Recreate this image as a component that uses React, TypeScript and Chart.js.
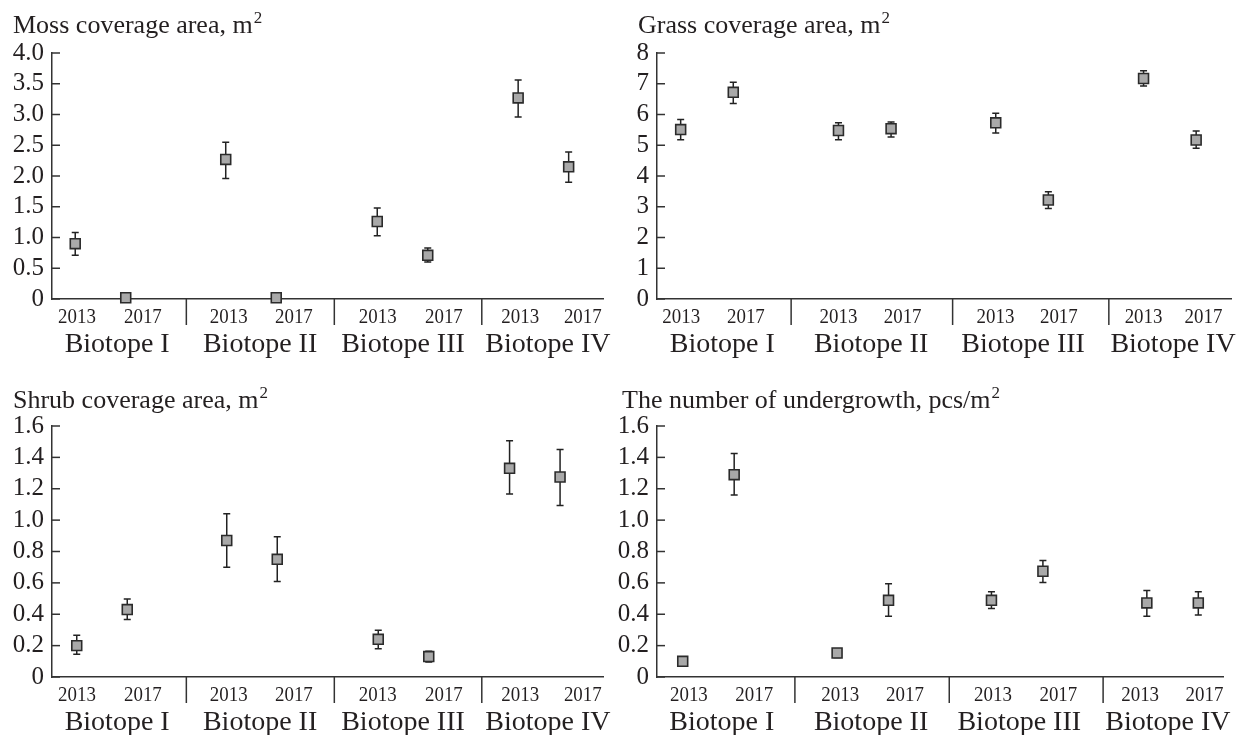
import React, { useEffect, useRef } from "react";
import { Chart, registerables } from "chart.js";

Chart.register(...registerables);

// ---------- data ----------
const YEARS = ["2013", "2017"];
const BIOTOPES = ["Biotope I", "Biotope II", "Biotope III", "Biotope IV"];

// order: I-2013, I-2017, II-2013, II-2017, III-2013, III-2017, IV-2013, IV-2017
const MOSS_MEAN = [0.9, 0.02, 2.27, 0.02, 1.26, 0.71, 3.27, 2.15];
const MOSS_LOW = [0.71, null, 1.96, null, 1.03, 0.6, 2.96, 1.9];
const MOSS_HIGH = [1.08, null, 2.55, null, 1.48, 0.83, 3.56, 2.39];

const GRASS_MEAN = [5.51, 6.72, 5.48, 5.54, 5.73, 3.22, 7.17, 5.17];
const GRASS_LOW = [5.18, 6.36, 5.18, 5.27, 5.4, 2.94, 6.93, 4.9];
const GRASS_HIGH = [5.84, 7.05, 5.73, 5.76, 6.04, 3.49, 7.42, 5.46];

const SHRUB_MEAN = [0.2, 0.43, 0.87, 0.75, 0.24, 0.13, 1.33, 1.275];
const SHRUB_LOW = [0.145, 0.366, 0.7, 0.608, 0.18, 0.096, 1.166, 1.094];
const SHRUB_HIGH = [0.266, 0.498, 1.04, 0.894, 0.298, 0.164, 1.506, 1.45];

const UNDER_MEAN = [0.1, 1.29, 0.153, 0.489, 0.489, 0.674, 0.472, 0.472];
const UNDER_LOW = [0.074, 1.16, 0.124, 0.387, 0.436, 0.602, 0.387, 0.396];
const UNDER_HIGH = [0.128, 1.425, 0.18, 0.594, 0.543, 0.742, 0.551, 0.543];

// ---------- styles ----------
const TEXT = "#231f20";
const AXIS = "#333333";
const FONT = "'Liberation Serif', 'DejaVu Serif', serif";

type PanelCfg = {
  title: string;
  canvas: { left: number; top: number; width: number; height: number };
  area: { left: number; right: number; top: number; bottom: number };
  titleX: number;
  titleBase: number;
  yMax: number;
  yStep: number;
  decimals: number;
  xMin: number;
  xMax: number;
  groupPos: number[];
  separators: number[];
  yearLabelPos: number[][];
  biotopeLabelPos: number[];
  mean: number[];
  low: (number | null)[];
  high: (number | null)[];
};

const PANELS: PanelCfg[] = [
  {
    title: "Moss coverage area, m",
    canvas: { left: 0, top: 0, width: 620, height: 370 },
    area: { left: 52, right: 603, top: 53, bottom: 299 },
    titleX: 13,
    titleBase: 33,
    yMax: 4,
    yStep: 0.5,
    decimals: 1,
    xMin: -0.46,
    xMax: 10.45,
    groupPos: [0, 2.98, 5.98, 8.77],
    separators: [2.2, 5.13, 8.05],
    yearLabelPos: [[0.035, 1.34], [3.04, 4.33], [5.99, 7.3], [8.81, 10.05]],
    biotopeLabelPos: [0.83, 3.66, 6.49, 9.36],
    mean: MOSS_MEAN,
    low: MOSS_LOW,
    high: MOSS_HIGH,
  },
  {
    title: "Grass coverage area, m",
    canvas: { left: 600, top: 0, width: 640, height: 370 },
    area: { left: 57, right: 639, top: 53, bottom: 299 },
    titleX: 38,
    titleBase: 33,
    yMax: 8,
    yStep: 1,
    decimals: 0,
    xMin: -0.45,
    xMax: 10.47,
    groupPos: [0, 3, 5.99, 8.8],
    separators: [2.1, 5.17, 8.14],
    yearLabelPos: [[0.01, 1.24], [3.0, 4.22], [5.985, 7.19], [8.8, 9.94]],
    biotopeLabelPos: [0.79, 3.62, 6.51, 9.36],
    mean: GRASS_MEAN,
    low: GRASS_LOW,
    high: GRASS_HIGH,
  },
  {
    title: "Shrub coverage area, m",
    canvas: { left: 0, top: 370, width: 620, height: 365 },
    area: { left: 52, right: 603, top: 56, bottom: 307 },
    titleX: 13,
    titleBase: 38,
    yMax: 1.6,
    yStep: 0.2,
    decimals: 1,
    xMin: -0.46,
    xMax: 10.45,
    groupPos: [0.03, 3.0, 6.0, 8.6],
    separators: [2.2, 5.13, 8.05],
    yearLabelPos: [[0.035, 1.34], [3.04, 4.33], [5.99, 7.3], [8.81, 10.05]],
    biotopeLabelPos: [0.83, 3.66, 6.49, 9.36],
    mean: SHRUB_MEAN,
    low: SHRUB_LOW,
    high: SHRUB_HIGH,
  },
  {
    title: "The number of undergrowth, pcs/m",
    canvas: { left: 600, top: 370, width: 640, height: 365 },
    area: { left: 57, right: 623, top: 56, bottom: 307 },
    titleX: 22,
    titleBase: 38,
    yMax: 1.6,
    yStep: 0.2,
    decimals: 1,
    xMin: -0.5,
    xMax: 10.5,
    groupPos: [0, 3, 6, 9.02],
    separators: [2.18, 5.18, 8.17],
    yearLabelPos: [[0.12, 1.39], [3.06, 4.32], [6.03, 7.3], [8.89, 10.14]],
    biotopeLabelPos: [0.76, 3.66, 6.54, 9.43],
    mean: UNDER_MEAN,
    low: UNDER_LOW,
    high: UNDER_HIGH,
  },
];

function makePlugin(p: PanelCfg) {
  return {
    id: "decor",
    beforeDatasetsDraw(chart: any) {
      const ctx = chart.ctx;
      const xs = chart.scales.x;
      const ys = chart.scales.y;
      ctx.save();
      ctx.strokeStyle = "#222";
      ctx.lineWidth = 1.5;
      p.mean.forEach((_, i) => {
        const lo = p.low[i];
        const hi = p.high[i];
        if (lo == null || hi == null) return;
        const g = Math.floor(i / 2);
        const x = xs.getPixelForValue(p.groupPos[g] + (i % 2));
        const y1 = ys.getPixelForValue(lo);
        const y2 = ys.getPixelForValue(hi);
        ctx.beginPath();
        ctx.moveTo(x, y1);
        ctx.lineTo(x, y2);
        ctx.moveTo(x - 3.5, y1);
        ctx.lineTo(x + 3.5, y1);
        ctx.moveTo(x - 3.5, y2);
        ctx.lineTo(x + 3.5, y2);
        ctx.stroke();
      });
      ctx.restore();
    },
    afterDraw(chart: any) {
      const ctx = chart.ctx;
      const xs = chart.scales.x;
      const ys = chart.scales.y;
      const area = chart.chartArea;
      ctx.save();
      // inward y ticks
      ctx.strokeStyle = AXIS;
      ctx.lineWidth = 1.5;
      ys.ticks.forEach((t: any) => {
        const y = ys.getPixelForValue(t.value);
        ctx.beginPath();
        ctx.moveTo(area.left, y);
        ctx.lineTo(area.left + 8, y);
        ctx.stroke();
      });
      // group separators
      p.separators.forEach((s) => {
        const x = xs.getPixelForValue(s);
        ctx.beginPath();
        ctx.moveTo(x, area.bottom);
        ctx.lineTo(x, area.bottom + 26);
        ctx.stroke();
      });
      // year labels (condensed)
      ctx.fillStyle = TEXT;
      ctx.textAlign = "center";
      ctx.textBaseline = "middle";
      ctx.font = `22px ${FONT}`;
      p.yearLabelPos.forEach((pair) => {
        pair.forEach((v, j) => {
          const x = xs.getPixelForValue(v);
          ctx.save();
          ctx.translate(x, area.bottom + 18);
          ctx.scale(0.86, 1);
          ctx.fillText(YEARS[j], 0, 0);
          ctx.restore();
        });
      });
      // biotope labels
      ctx.font = `28px ${FONT}`;
      p.biotopeLabelPos.forEach((v, k) => {
        const x = xs.getPixelForValue(v);
        ctx.fillText(BIOTOPES[k], x, area.bottom + 46);
      });
      // title with superscript
      ctx.textAlign = "left";
      ctx.textBaseline = "alphabetic";
      ctx.font = `26px ${FONT}`;
      ctx.fillText(p.title, p.titleX, p.titleBase);
      const w = ctx.measureText(p.title).width;
      ctx.font = `17px ${FONT}`;
      ctx.fillText("2", p.titleX + w + 1, p.titleBase - 10);
      ctx.restore();
    },
  };
}

function Panel({ p }: { p: PanelCfg }) {
  const ref = useRef<HTMLCanvasElement | null>(null);
  useEffect(() => {
    if (!ref.current) return;
    const { width, height } = p.canvas;
    const points = p.mean.map((v, i) => ({
      x: p.groupPos[Math.floor(i / 2)] + (i % 2),
      y: v,
    }));
    const chart = new Chart(ref.current, {
      type: "scatter",
      data: {
        datasets: [
          {
            data: points,
            pointStyle: "rect",
            pointRadius: 7,
            pointHoverRadius: 7,
            pointBackgroundColor: "#a9a9a9",
            pointBorderColor: "#2b2b2b",
            pointBorderWidth: 1.6,
            showLine: false,
            clip: false,
          } as any,
        ],
      },
      options: {
        responsive: false,
        animation: false,
        devicePixelRatio: 1,
        events: [],
        layout: {
          padding: {
            left: 0,
            top: p.area.top,
            right: width - p.area.right,
            bottom: height - p.area.bottom,
          },
        },
        plugins: {
          legend: { display: false },
          tooltip: { enabled: false },
          title: { display: false },
        },
        scales: {
          x: {
            type: "linear",
            min: p.xMin,
            max: p.xMax,
            display: true,
            ticks: { display: false },
            grid: { display: false, drawTicks: false },
            border: { display: true, color: AXIS, width: 1.5 },
            afterFit: (s: any) => {
              s.height = 0;
            },
          },
          y: {
            type: "linear",
            min: 0,
            max: p.yMax,
            ticks: {
              stepSize: p.yStep,
              autoSkip: false,
              padding: 8,
              color: TEXT,
              font: { family: FONT, size: 25 },
              callback: (v: any) =>
                Math.abs(v) < 1e-9 ? "0" : Number(v).toFixed(p.decimals),
            },
            grid: { display: false, drawTicks: false },
            border: { display: true, color: AXIS, width: 1.5 },
            afterFit: (s: any) => {
              s.width = p.area.left;
            },
          },
        },
      } as any,
      plugins: [makePlugin(p)],
    });
    return () => chart.destroy();
  }, [p]);
  return (
    <canvas
      ref={ref}
      width={p.canvas.width}
      height={p.canvas.height}
      style={{
        position: "absolute",
        left: p.canvas.left,
        top: p.canvas.top,
        width: p.canvas.width,
        height: p.canvas.height,
      }}
    />
  );
}

export default function App() {
  return (
    <div
      style={{
        position: "absolute",
        left: 0,
        top: 0,
        width: 1240,
        height: 735,
        background: "#ffffff",
        overflow: "hidden",
      }}
    >
      {PANELS.map((p, i) => (
        <Panel key={i} p={p} />
      ))}
    </div>
  );
}
